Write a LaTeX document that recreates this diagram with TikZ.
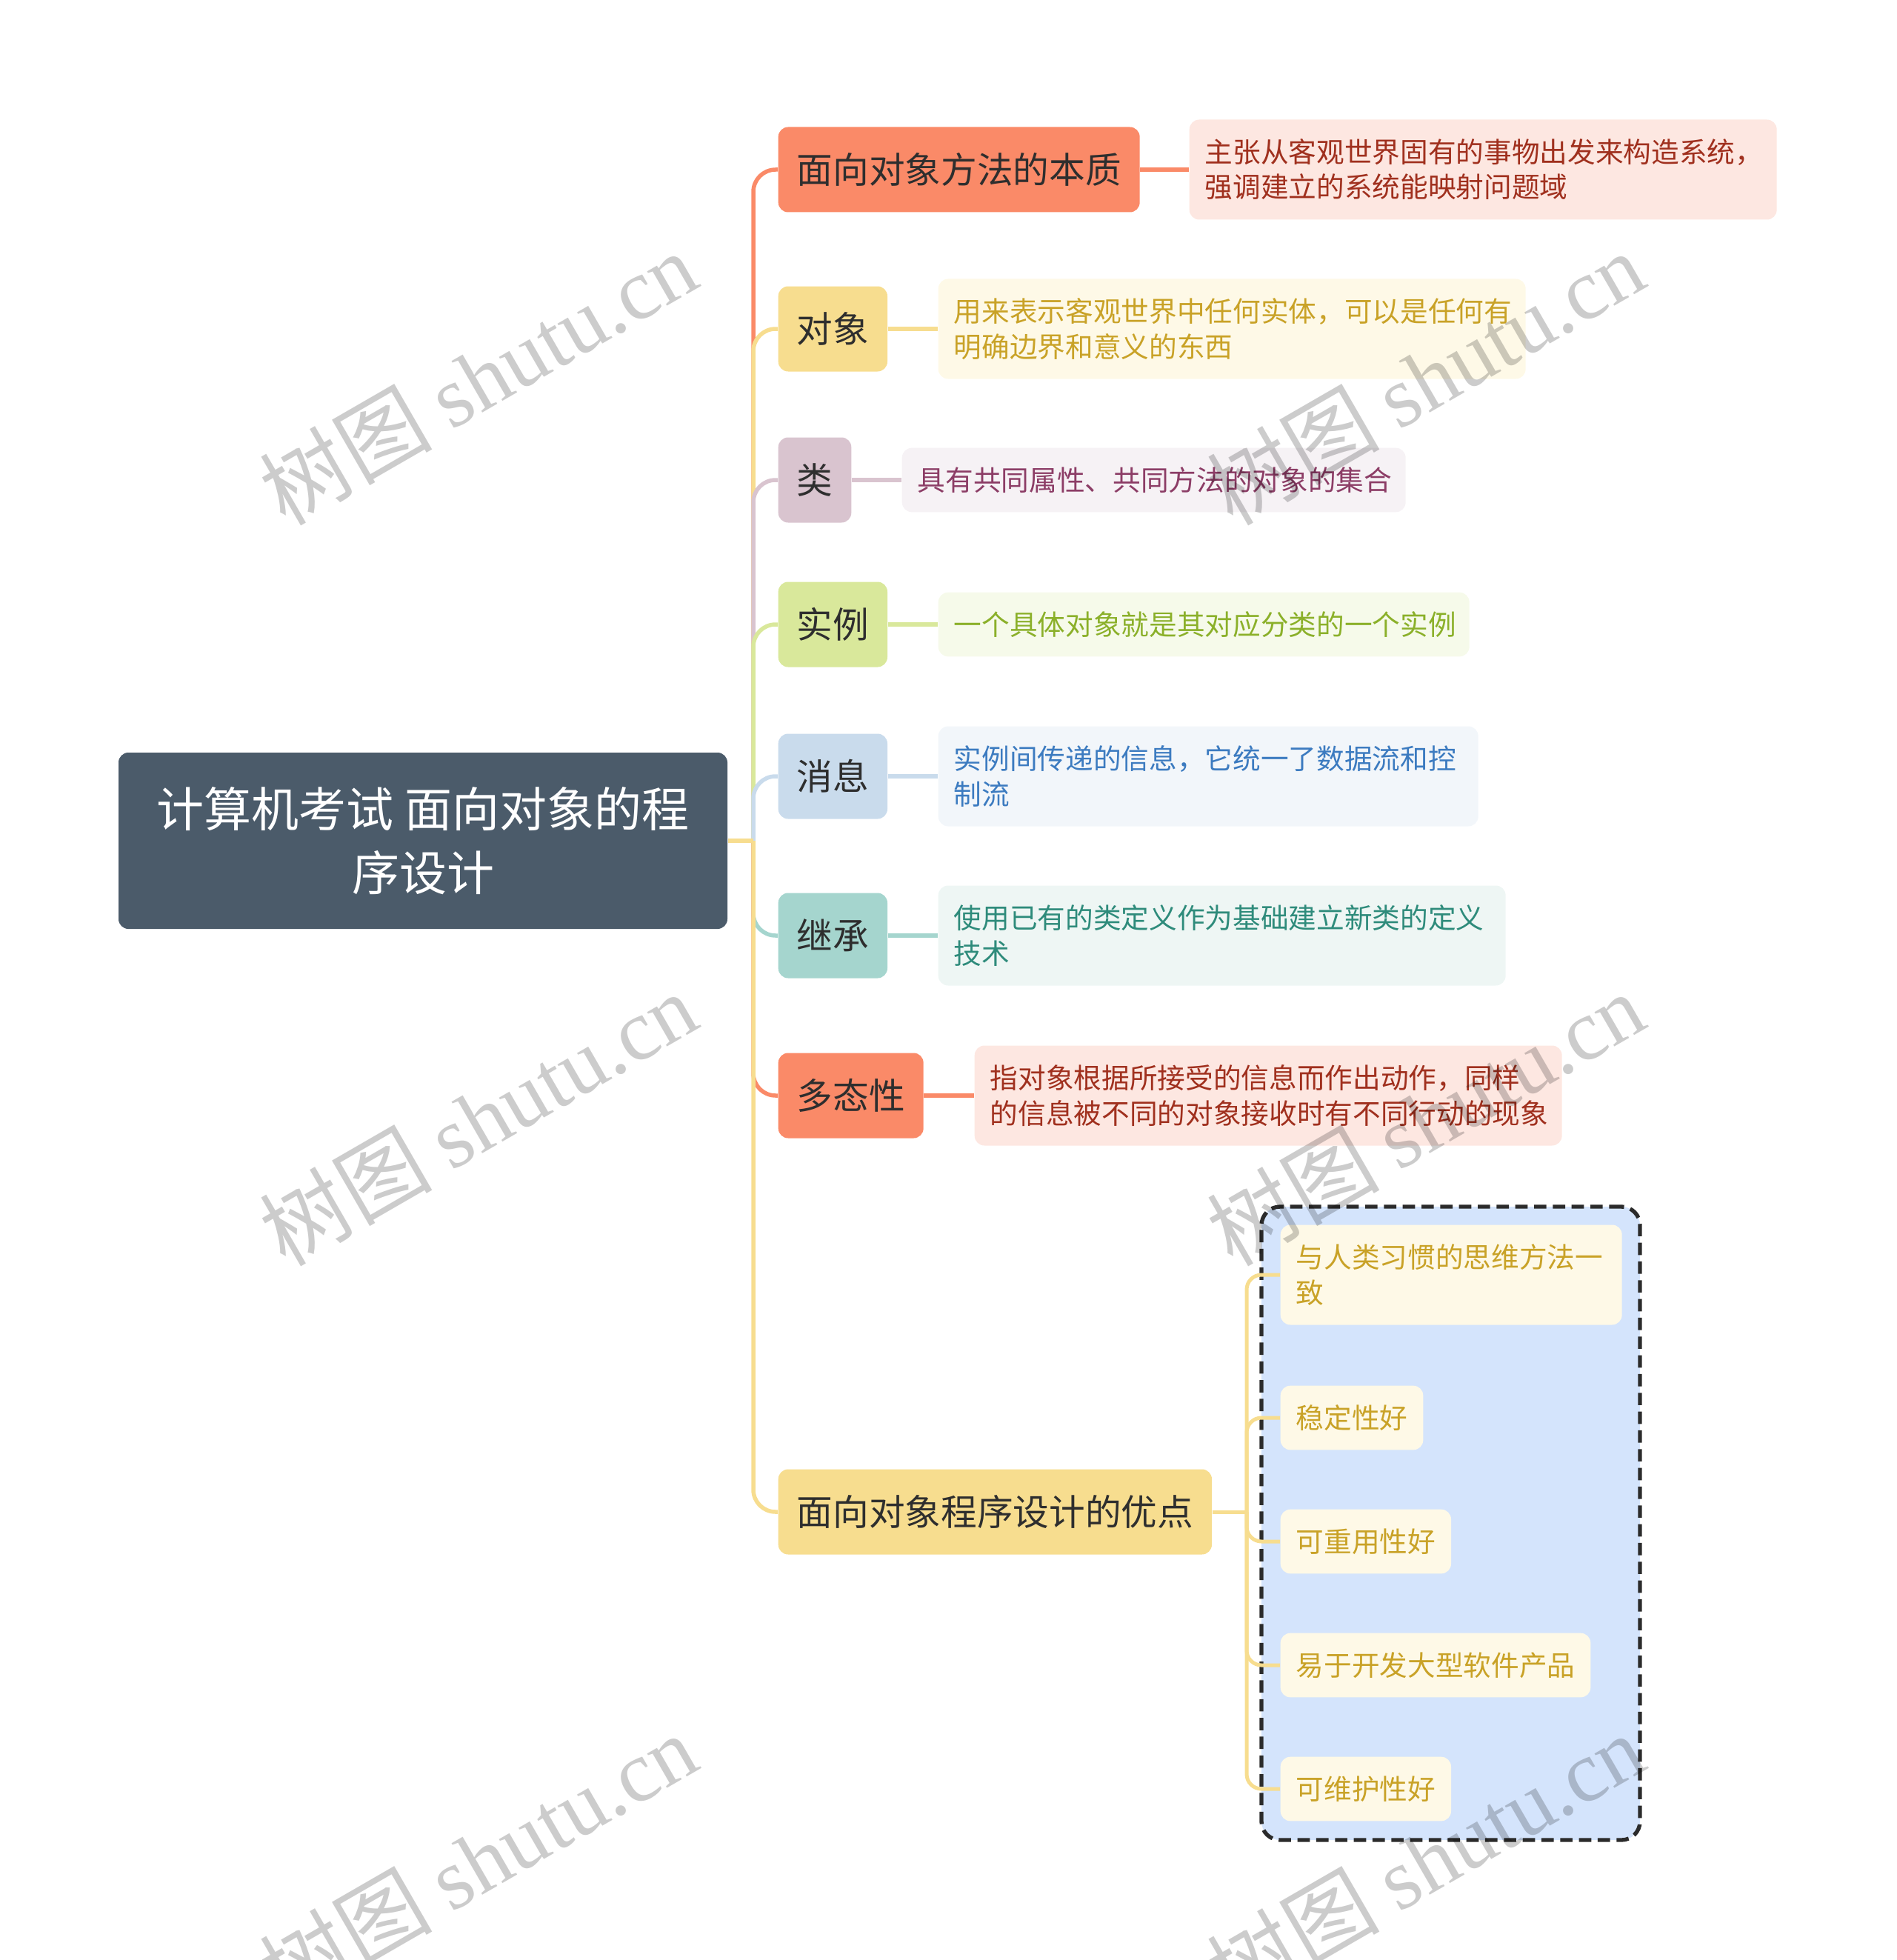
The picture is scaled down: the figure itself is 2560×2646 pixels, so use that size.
\documentclass[tikz,border=0pt]{standalone}
\usepackage{fontspec}
\setmainfont{Noto Sans CJK SC}
\newfontfamily\wmfont{Liberation Serif}
\newfontfamily\wmcjk{Noto Sans CJK SC}
\usetikzlibrary{backgrounds}
\pgfdeclarelayer{fg}
\pgfsetlayers{background,main,fg}
\definecolor{rootfill}{HTML}{4B5B6A}
\definecolor{txtdark}{HTML}{2E2E2E}
\definecolor{cO}{HTML}{FA8A68}
\definecolor{cOd}{HTML}{FDE7E1}
\definecolor{cOt}{HTML}{A0301E}
\definecolor{cY}{HTML}{F7DD8F}
\definecolor{cYd}{HTML}{FEF9E7}
\definecolor{cYt}{HTML}{C9A227}
\definecolor{cP}{HTML}{D9C4CF}
\definecolor{cPd}{HTML}{F6F2F5}
\definecolor{cPt}{HTML}{8C3D66}
\definecolor{cG}{HTML}{D9E89B}
\definecolor{cGd}{HTML}{F6FAEA}
\definecolor{cGt}{HTML}{8BB02A}
\definecolor{cB}{HTML}{C9DBEC}
\definecolor{cBd}{HTML}{F2F6FA}
\definecolor{cBt}{HTML}{3C7BC0}
\definecolor{cT}{HTML}{A5D5CE}
\definecolor{cTd}{HTML}{EEF6F4}
\definecolor{cTt}{HTML}{2E8B7B}
\definecolor{boxfill}{HTML}{D4E4FC}
\definecolor{boxline}{HTML}{2B2B2B}
\begin{document}
\begin{tikzpicture}[x=0.3pt,y=-0.3pt,
  rootbox/.style={fill=rootfill, text=white, rounded corners=4pt, inner sep=0pt,
    minimum width=246.6pt, minimum height=71.4pt, align=center,
    font=\fontsize{19.2}{25.8}\selectfont},
  mainbox/.style={rounded corners=4pt, inner xsep=7.5pt, inner ysep=0pt,
    minimum height=34.5pt, anchor=west, text=txtdark,
    font=\fontsize{14.6}{17.5}\selectfont},
  detailbox/.style={rounded corners=4pt, inner xsep=6.3pt, inner ysep=0pt,
    anchor=west, align=left, font=\fontsize{11.3}{14.2}\selectfont},
  two/.style={minimum height=40.5pt},
  one/.style={minimum height=26pt},
  link/.style={line width=1.65pt, rounded corners=9pt},
  sublink/.style={line width=1.5pt, rounded corners=6pt},
  wm/.style={rotate=30, text=black, opacity=0.2, font=\fontsize{35}{35}\selectfont}
]
\useasboundingbox (0,0) rectangle (2560,2646);

% root
\node[rootbox] (root) at (571,1135) {计算机考试 面向对象的程\\序设计};
\coordinate (trunk) at (1017,1135);

% main branches
\node[mainbox, fill=cO] (m1) at (1050,229) {面向对象方法的本质};
\node[mainbox, fill=cY] (m2) at (1050,444) {对象};
\node[mainbox, fill=cP] (m3) at (1050,648) {类};
\node[mainbox, fill=cG] (m4) at (1050,843) {实例};
\node[mainbox, fill=cB] (m5) at (1050,1048) {消息};
\node[mainbox, fill=cT] (m6) at (1050,1263) {继承};
\node[mainbox, fill=cO] (m7) at (1050,1479) {多态性};
\node[mainbox, fill=cY] (m8) at (1050,2041) {面向对象程序设计的优点};

% details
\node[detailbox, two, fill=cOd, text=cOt, text width=225.3pt] (d1) at (1605,229)
  {主张从客观世界固有的事物出发来构造系统，\\强调建立的系统能映射问题域};
\node[detailbox, two, fill=cYd, text=cYt, text width=225.3pt] (d2) at (1266,444)
  {用来表示客观世界中任何实体，可以是任何有\\明确边界和意义的东西};
\node[detailbox, one, fill=cPd, text=cPt, text width=191.4pt] (d3) at (1217,648)
  {具有共同属性、共同方法的对象的集合};
\node[detailbox, one, fill=cGd, text=cGt, text width=202.5pt] (d4) at (1266,843)
  {一个具体对象就是其对应分类的一个实例};
\node[detailbox, two, fill=cBd, text=cBt, text width=206.1pt] (d5) at (1266,1048)
  {实例间传递的信息，它统一了数据流和控\\制流};
\node[detailbox, two, fill=cTd, text=cTt, text width=217.2pt] (d6) at (1266,1263)
  {使用已有的类定义作为基础建立新类的定义\\技术};
\node[detailbox, two, fill=cOd, text=cOt, text width=225.3pt] (d7) at (1315,1479)
  {指对象根据所接受的信息而作出动作，同样\\的信息被不同的对象接收时有不同行动的现象};

% advantages
\coordinate (sub) at (1683,2041);
\node[detailbox, two, fill=cYd, text=cYt, text width=125.7pt] (c1) at (1728,1721)
  {与人类习惯的思维方法一\\致};
\node[detailbox, one, fill=cYd, text=cYt] (c2) at (1728,1914) {稳定性好};
\node[detailbox, one, fill=cYd, text=cYt] (c3) at (1728,2081) {可重用性好};
\node[detailbox, one, fill=cYd, text=cYt] (c4) at (1728,2248) {易于开发大型软件产品};
\node[detailbox, one, fill=cYd, text=cYt] (c5) at (1728,2415) {可维护性好};

\begin{pgfonlayer}{background}
\node[draw=boxline, fill=boxfill, line width=1.6pt, dash pattern=on 5pt off 2.6pt,
  rounded corners=7.5pt, minimum width=153.3pt, minimum height=256.5pt, inner sep=0pt]
  (grp) at (1958.5,2056.5) {};
\draw[link, cO] (trunk) |- (m1.west);
\draw[link, cY] (trunk) |- (m2.west);
\draw[link, cP] (trunk) |- (m3.west);
\draw[link, cG] (trunk) |- (m4.west);
\draw[link, cB] (trunk) |- (m5.west);
\draw[link, cT] (trunk) |- (m6.west);
\draw[link, cO] (trunk) |- (m7.west);
\draw[link, cY] (trunk) |- (m8.west);
\draw[link, cY] (root.east) -- (trunk);
\draw[link, cO] (m1.east) -- (d1.west);
\draw[link, cY] (m2.east) -- (d2.west);
\draw[link, cP] (m3.east) -- (d3.west);
\draw[link, cG] (m4.east) -- (d4.west);
\draw[link, cB] (m5.east) -- (d5.west);
\draw[link, cT] (m6.east) -- (d6.west);
\draw[link, cO] (m7.east) -- (d7.west);
\draw[sublink, cY] (m8.east) -- (sub);
\draw[sublink, cY] (sub) |- (c1.west);
\draw[sublink, cY] (sub) |- (c2.west);
\draw[sublink, cY] (sub) |- (c3.west);
\draw[sublink, cY] (sub) |- (c4.west);
\draw[sublink, cY] (sub) |- (c5.west);
\end{pgfonlayer}

\begin{pgfonlayer}{fg}
\node[wm] (w1) at (645,510) {{\wmcjk 树图} {\wmfont shutu.cn}};
\node[wm] (w2) at (1924,510) {{\wmcjk 树图} {\wmfont shutu.cn}};
\node[wm] (w3) at (645,1510) {{\wmcjk 树图} {\wmfont shutu.cn}};
\node[wm] (w4) at (1924,1510) {{\wmcjk 树图} {\wmfont shutu.cn}};
\node[wm] (w5) at (645,2511) {{\wmcjk 树图} {\wmfont shutu.cn}};
\node[wm] (w6) at (1924,2511) {{\wmcjk 树图} {\wmfont shutu.cn}};
\end{pgfonlayer}
\end{tikzpicture}
\end{document}
